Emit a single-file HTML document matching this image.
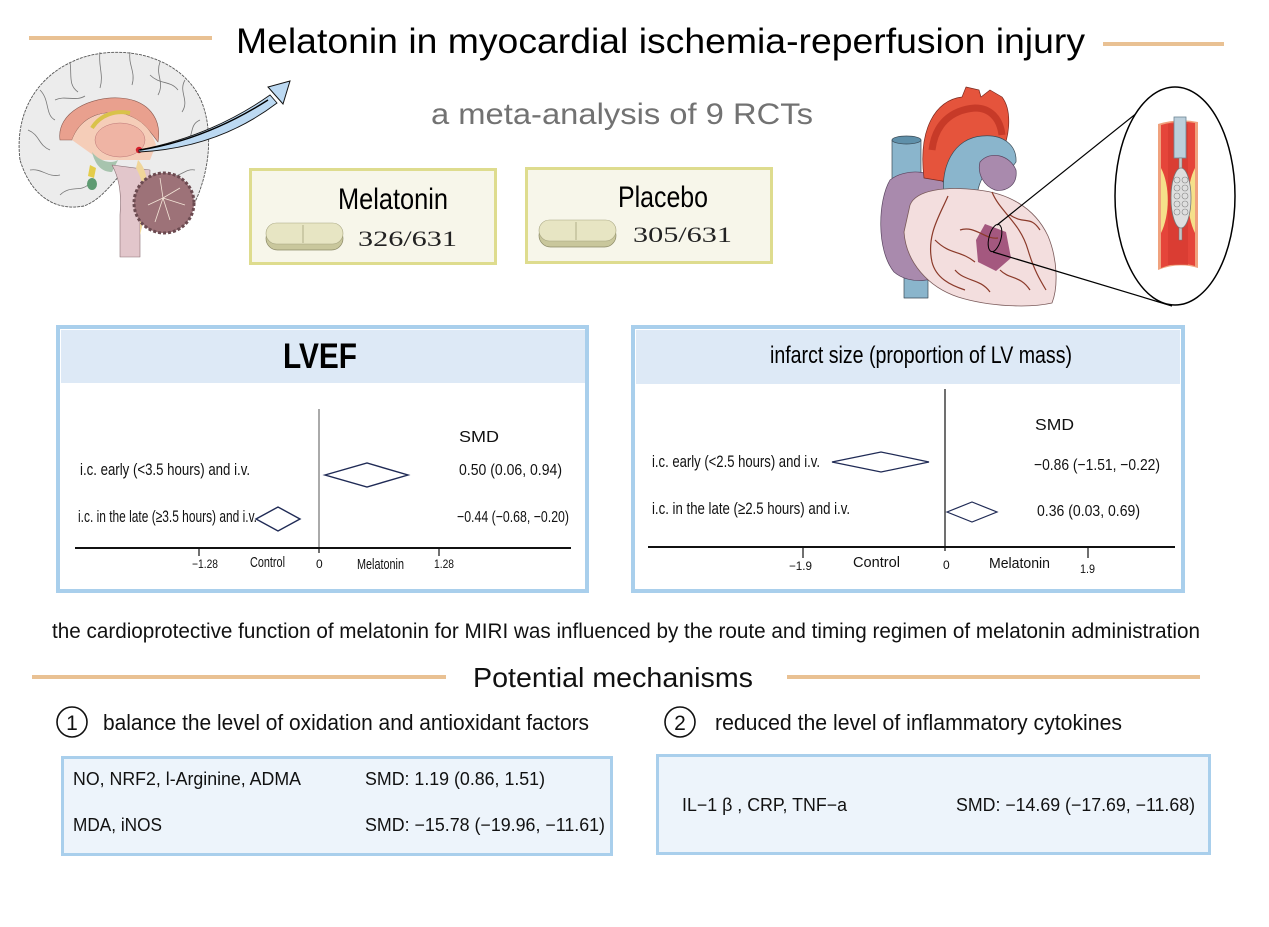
<!DOCTYPE html>
<html>
<head>
<meta charset="utf-8">
<style>
html,body{margin:0;padding:0;background:#fff;}
svg{display:block;}
text{font-family:"Liberation Sans",Arial,sans-serif;}
</style>
</head>
<body>
<svg width="1269" height="927" viewBox="0 0 1269 927" xmlns="http://www.w3.org/2000/svg">
<rect width="1269" height="927" fill="#fff"/>

<!-- Title -->
<line x1="29" y1="38" x2="212" y2="38" stroke="#e9c193" stroke-width="4"/>
<line x1="1103" y1="44" x2="1224" y2="44" stroke="#e9c193" stroke-width="4"/>
<text x="236" y="53" font-size="35" fill="#000" textLength="849" lengthAdjust="spacingAndGlyphs">Melatonin in myocardial ischemia-reperfusion injury</text>
<text x="431" y="124" font-size="30" fill="#727272" textLength="382" lengthAdjust="spacingAndGlyphs">a meta-analysis of 9 RCTs</text>

<!-- Brain -->
<g stroke-linejoin="round">
  <path d="M20,160 C14,112 38,72 84,57 C128,44 180,58 200,98 C213,126 211,166 196,200 L186,206 C176,186 156,176 140,178 L121,174 C110,186 100,200 84,206 C58,211 32,199 20,160 Z" fill="#ececec" stroke="#555" stroke-width="0.9" stroke-dasharray="3 1"/>
  <g fill="none" stroke="#777" stroke-width="0.8">
    <path d="M40,90 C50,100 45,115 55,120"/><path d="M70,62 C72,75 68,85 78,92"/>
    <path d="M100,52 C98,66 104,75 100,88"/><path d="M130,52 C128,65 136,72 132,85"/>
    <path d="M160,62 C155,75 165,82 158,95"/><path d="M185,80 C178,92 190,100 182,112"/>
    <path d="M200,120 C188,125 195,138 185,142"/><path d="M28,130 C40,135 38,145 50,150"/>
    <path d="M30,170 C42,168 48,178 60,175"/><path d="M60,195 C70,185 80,192 88,185"/>
    <path d="M195,170 C185,168 180,178 170,176"/><path d="M55,100 C65,95 75,102 85,96"/>
    <path d="M150,75 C160,85 170,80 178,90"/>
  </g>
  <path d="M60,140 C56,112 92,96 120,98 C148,100 162,118 158,142 C150,132 144,120 124,114 C100,109 80,118 72,140 Z" fill="#e9a08e" stroke="#8a5a50" stroke-width="0.6"/>
  <path d="M72,140 C80,118 100,110 124,114 C144,120 152,132 156,145 L150,160 L100,160 Z" fill="#f5cdb8"/>
  <path d="M92,128 C100,115 115,110 130,113" fill="none" stroke="#d9c24a" stroke-width="4"/>
  <ellipse cx="120" cy="140" rx="25" ry="17" fill="#efb4a4" stroke="#b77" stroke-width="0.5"/>
  <path d="M92,152 C98,160 110,165 118,160 L112,172 C104,172 96,168 92,152 Z" fill="#a7c4ae"/>
  <path d="M90,165 L96,168 L94,178 L88,176 Z" fill="#e4cc4a"/>
  <ellipse cx="92" cy="184" rx="5" ry="6" fill="#5e9b72"/>
  <path d="M112,165 C118,176 122,190 120,215 L120,257 L140,257 L140,222 C145,200 150,186 150,170 Z" fill="#e2c6cb" stroke="#8a7075" stroke-width="0.6"/>
  <path d="M138,160 C148,170 150,190 145,215 L140,235 L140,222 C144,200 146,186 136,168 Z" fill="#f0d69a"/>
  <circle cx="164" cy="203" r="30" fill="#9d7278" stroke="#6b4a50" stroke-width="3" stroke-dasharray="3 2"/>
  <g stroke="#f4e6d8" stroke-width="0.8" fill="none">
    <path d="M148,205 L163,198 L180,188"/><path d="M163,198 L170,220"/><path d="M163,198 L155,222"/><path d="M163,198 L185,205"/><path d="M163,198 L160,178"/>
  </g>
  <circle cx="139" cy="150" r="3.2" fill="#d4202c"/>
</g>
<!-- Brain arrow -->
<path d="M139,150 Q212,136 270,95 L277,103 Q218,148 139,152 Z" fill="#bcd9f2" stroke="#111" stroke-width="0.9"/>
<path d="M140,150 Q205,140 268,100" fill="none" stroke="#000" stroke-width="1.4"/>
<path d="M290,81 L268,87 L283,104 Z" fill="#bcd9f2" stroke="#111" stroke-width="1"/>

<!-- Melatonin / Placebo boxes -->
<rect x="250.5" y="169.5" width="245" height="94" fill="#f7f6ea" stroke="#dedc8e" stroke-width="3"/>
<text x="338" y="209" font-size="30" fill="#000" textLength="110" lengthAdjust="spacingAndGlyphs">Melatonin</text>
<g>
  <rect x="266" y="227" width="77" height="23" rx="11.5" fill="#c9c79c" stroke="#8d8b68" stroke-width="0.7"/>
  <rect x="266" y="223" width="77" height="21" rx="10.5" fill="#e7e5c3" stroke="#a8a680" stroke-width="0.6"/>
  <line x1="303" y1="225" x2="303" y2="243" stroke="#b2b08a" stroke-width="1"/>
</g>
<text x="358" y="246" font-size="22" fill="#222" textLength="99" lengthAdjust="spacingAndGlyphs" style="font-family:'Liberation Serif',serif">326/631</text>

<rect x="526.5" y="168.5" width="245" height="94" fill="#f7f6ea" stroke="#dedc8e" stroke-width="3"/>
<text x="618" y="207" font-size="30" fill="#000" textLength="90" lengthAdjust="spacingAndGlyphs">Placebo</text>
<g>
  <rect x="539" y="224" width="77" height="23" rx="11.5" fill="#c9c79c" stroke="#8d8b68" stroke-width="0.7"/>
  <rect x="539" y="220" width="77" height="21" rx="10.5" fill="#e7e5c3" stroke="#a8a680" stroke-width="0.6"/>
  <line x1="576" y1="222" x2="576" y2="240" stroke="#b2b08a" stroke-width="1"/>
</g>
<text x="633" y="242" font-size="22" fill="#222" textLength="99" lengthAdjust="spacingAndGlyphs" style="font-family:'Liberation Serif',serif">305/631</text>

<!-- Heart -->
<g stroke-linejoin="round">
  <rect x="892" y="140" width="29" height="48" fill="#8ab5cc" stroke="#3a4a55" stroke-width="0.7"/>
  <ellipse cx="906.5" cy="140" rx="14.5" ry="4" fill="#5f90aa" stroke="#3a4a55" stroke-width="0.7"/>
  <rect x="904" y="262" width="24" height="36" fill="#8ab5cc" stroke="#3a4a55" stroke-width="0.7"/>
  <path d="M890,180 C878,200 876,250 894,272 C910,286 940,282 952,266 L950,190 C936,168 905,168 890,180 Z" fill="#a98aad" stroke="#5a4560" stroke-width="0.7"/>
  <path d="M924,178 C918,130 935,100 962,97 L966,87 L979,90 L981,97 L990,90 L1002,97 C1012,110 1010,135 1002,152 L976,152 C960,152 950,162 948,182 Z" fill="#e5543c" stroke="#7a2a20" stroke-width="0.7"/>
  <path d="M932,150 C935,125 950,110 975,108 C990,108 1000,118 1002,135" fill="none" stroke="#c73a28" stroke-width="7"/>
  <path d="M945,205 C938,165 955,138 982,136 C1003,134 1017,145 1016,162 C1010,172 1000,172 990,170 C980,176 976,192 976,208 Z" fill="#8ab5cc" stroke="#3a4a55" stroke-width="0.7"/>
  <path d="M980,162 C990,150 1010,155 1016,170 C1018,186 1005,192 995,190 C984,186 977,174 980,162 Z" fill="#a98aad" stroke="#5a4560" stroke-width="0.7"/>
  <path d="M910,205 C916,190 945,186 978,190 C1006,193 1034,206 1048,236 C1058,260 1058,288 1052,303 C1030,308 990,307 958,297 C928,287 906,262 904,232 Z" fill="#f3dede" stroke="#7a5a5a" stroke-width="0.8"/>
  <path d="M985,224 L1006,232 L1011,258 L996,271 L978,262 L976,240 Z" fill="#a4587f"/>
  <g fill="none" stroke="#8b3a2a" stroke-width="1.2">
    <path d="M948,196 C940,215 926,235 932,262 C936,278 950,285 965,290"/>
    <path d="M992,192 C1000,212 1020,222 1028,250 C1034,270 1040,280 1046,290"/>
    <path d="M960,230 C975,225 985,240 998,238"/>
    <path d="M935,240 C950,255 960,250 975,262"/>
    <path d="M1010,215 C1025,225 1030,215 1040,230"/>
    <path d="M1000,270 C1010,280 1020,275 1030,290"/>
    <path d="M955,270 C965,282 980,278 990,292"/>
  </g>
  <ellipse cx="995" cy="238" rx="6" ry="14" transform="rotate(15 995 238)" fill="none" stroke="#000" stroke-width="1"/>
</g>
<line x1="997" y1="225" x2="1168" y2="88" stroke="#000" stroke-width="1.2"/>
<line x1="993" y1="252" x2="1172" y2="306" stroke="#000" stroke-width="1.2"/>
<ellipse cx="1175" cy="196" rx="60" ry="109" fill="#fff" stroke="#000" stroke-width="1.5"/>
<!-- vessel / stent -->
<g>
  <path d="M1158,124 Q1178,118 1198,122 L1198,268 Q1178,262 1158,270 Z" fill="#f0a27e"/>
  <path d="M1161,125 Q1178,120 1195,123 L1195,266 Q1178,261 1161,268 Z" fill="#e5453a"/>
  <path d="M1168,124 L1188,124 L1188,265 L1168,265 Z" fill="#d63a30" opacity="0.7"/>
  <path d="M1161,168 C1170,185 1170,215 1161,233 Z" fill="#f5e08a"/>
  <path d="M1195,168 C1186,185 1186,215 1195,233 Z" fill="#f5e08a"/>
  <rect x="1174" y="117" width="12" height="41" fill="#bccfdb" stroke="#6d8595" stroke-width="0.8"/>
  <rect x="1179" y="158" width="3" height="82" fill="#c5c5c5" stroke="#777" stroke-width="0.5"/>
  <ellipse cx="1181" cy="198" rx="10" ry="30" fill="#dedede" stroke="#777" stroke-width="0.8"/>
  <g fill="none" stroke="#888" stroke-width="0.6">
    <circle cx="1177" cy="180" r="3"/><circle cx="1185" cy="180" r="3"/>
    <circle cx="1177" cy="188" r="3"/><circle cx="1185" cy="188" r="3"/>
    <circle cx="1177" cy="196" r="3"/><circle cx="1185" cy="196" r="3"/>
    <circle cx="1177" cy="204" r="3"/><circle cx="1185" cy="204" r="3"/>
    <circle cx="1177" cy="212" r="3"/><circle cx="1185" cy="212" r="3"/>
  </g>
</g>

<!-- LVEF panel -->
<rect x="58" y="327" width="529" height="264" fill="#fff" stroke="#a9cfec" stroke-width="4"/>
<rect x="61" y="330" width="524" height="53" fill="#dde9f6"/>
<text x="283" y="368" font-size="35" font-weight="bold" fill="#000" textLength="74" lengthAdjust="spacingAndGlyphs">LVEF</text>
<line x1="319" y1="409" x2="319" y2="548" stroke="#555" stroke-width="1"/>
<line x1="75" y1="548" x2="571" y2="548" stroke="#111" stroke-width="2"/>
<line x1="199" y1="548" x2="199" y2="556" stroke="#111" stroke-width="1.2"/>
<line x1="319" y1="548" x2="319" y2="553" stroke="#111" stroke-width="1.2"/>
<line x1="439" y1="548" x2="439" y2="556" stroke="#111" stroke-width="1.2"/>
<text x="459" y="442" font-size="16" fill="#111" textLength="40" lengthAdjust="spacingAndGlyphs">SMD</text>
<text x="80" y="475" font-size="17" fill="#111" textLength="170" lengthAdjust="spacingAndGlyphs">i.c. early (&lt;3.5 hours) and i.v.</text>
<text x="78" y="522" font-size="17" fill="#111" textLength="179" lengthAdjust="spacingAndGlyphs">i.c. in the late (≥3.5 hours) and i.v.</text>
<text x="459" y="475" font-size="16" fill="#111" textLength="103" lengthAdjust="spacingAndGlyphs">0.50 (0.06, 0.94)</text>
<text x="457" y="522" font-size="16" fill="#111" textLength="112" lengthAdjust="spacingAndGlyphs">−0.44 (−0.68, −0.20)</text>
<polygon points="325,475 367,463 408,475 367,487" fill="none" stroke="#1f2a55" stroke-width="1.4"/>
<polygon points="256,519 278,507 300,519 278,531" fill="none" stroke="#1f2a55" stroke-width="1.4"/>
<text x="192" y="568" font-size="12" fill="#111" textLength="26" lengthAdjust="spacingAndGlyphs">−1.28</text>
<text x="250" y="567" font-size="15" fill="#111" textLength="35" lengthAdjust="spacingAndGlyphs">Control</text>
<text x="316" y="568" font-size="12" fill="#111">0</text>
<text x="357" y="569" font-size="15" fill="#111" textLength="47" lengthAdjust="spacingAndGlyphs">Melatonin</text>
<text x="434" y="568" font-size="12" fill="#111" textLength="20" lengthAdjust="spacingAndGlyphs">1.28</text>

<!-- Infarct panel -->
<rect x="633" y="327" width="550" height="264" fill="#fff" stroke="#a9cfec" stroke-width="4"/>
<rect x="636" y="330" width="544" height="54" fill="#dde9f6"/>
<text x="770" y="363" font-size="24" fill="#000" textLength="302" lengthAdjust="spacingAndGlyphs">infarct size (proportion of LV mass)</text>
<line x1="945" y1="389" x2="945" y2="547" stroke="#111" stroke-width="1.2"/>
<line x1="648" y1="547" x2="1175" y2="547" stroke="#111" stroke-width="2"/>
<line x1="803" y1="547" x2="803" y2="558" stroke="#111" stroke-width="1.2"/>
<line x1="945" y1="547" x2="945" y2="551" stroke="#111" stroke-width="1.2"/>
<line x1="1088" y1="547" x2="1088" y2="558" stroke="#111" stroke-width="1.2"/>
<text x="1035" y="430" font-size="16" fill="#111" textLength="39" lengthAdjust="spacingAndGlyphs">SMD</text>
<text x="652" y="467" font-size="17" fill="#111" textLength="168" lengthAdjust="spacingAndGlyphs">i.c. early (&lt;2.5 hours) and i.v.</text>
<text x="652" y="514" font-size="17" fill="#111" textLength="198" lengthAdjust="spacingAndGlyphs">i.c. in the late (≥2.5 hours) and i.v.</text>
<text x="1034" y="470" font-size="16" fill="#111" textLength="126" lengthAdjust="spacingAndGlyphs">−0.86 (−1.51, −0.22)</text>
<text x="1037" y="516" font-size="16" fill="#111" textLength="103" lengthAdjust="spacingAndGlyphs">0.36 (0.03, 0.69)</text>
<polygon points="832,462 881,452 929,462 881,472" fill="none" stroke="#1f2a55" stroke-width="1.2"/>
<polygon points="947,512 972,502 997,512 972,522" fill="none" stroke="#1f2a55" stroke-width="1.2"/>
<text x="789" y="570" font-size="12" fill="#111" textLength="23" lengthAdjust="spacingAndGlyphs">−1.9</text>
<text x="853" y="567" font-size="15" fill="#111" textLength="47" lengthAdjust="spacingAndGlyphs">Control</text>
<text x="943" y="569" font-size="12" fill="#111">0</text>
<text x="989" y="568" font-size="15" fill="#111" textLength="61" lengthAdjust="spacingAndGlyphs">Melatonin</text>
<text x="1080" y="573" font-size="12" fill="#111" textLength="15" lengthAdjust="spacingAndGlyphs">1.9</text>

<!-- Summary -->
<text x="52" y="638" font-size="21" fill="#111" textLength="1148" lengthAdjust="spacingAndGlyphs">the cardioprotective function of melatonin for MIRI was influenced by the route and timing regimen of melatonin administration</text>

<!-- Potential mechanisms -->
<line x1="32" y1="677" x2="446" y2="677" stroke="#e9c193" stroke-width="4"/>
<line x1="787" y1="677" x2="1200" y2="677" stroke="#e9c193" stroke-width="4"/>
<text x="473" y="687" font-size="28" fill="#111" textLength="280" lengthAdjust="spacingAndGlyphs">Potential mechanisms</text>

<circle cx="72" cy="722" r="15" fill="none" stroke="#111" stroke-width="1.6"/>
<text x="72" y="730" font-size="21" fill="#111" text-anchor="middle">1</text>
<text x="103" y="730" font-size="22" fill="#111" textLength="486" lengthAdjust="spacingAndGlyphs">balance the level of oxidation and antioxidant factors</text>

<circle cx="680" cy="722" r="15" fill="none" stroke="#111" stroke-width="1.6"/>
<text x="680" y="730" font-size="21" fill="#111" text-anchor="middle">2</text>
<text x="715" y="730" font-size="22" fill="#111" textLength="407" lengthAdjust="spacingAndGlyphs">reduced the level of  inflammatory cytokines</text>

<!-- Box 3 -->
<rect x="62.5" y="757.5" width="549" height="97" fill="#edf4fb" stroke="#a9cfec" stroke-width="3"/>
<text x="73" y="785" font-size="18" fill="#111" textLength="228" lengthAdjust="spacingAndGlyphs">NO, NRF2, l-Arginine, ADMA</text>
<text x="365" y="785" font-size="18" fill="#111" textLength="180" lengthAdjust="spacingAndGlyphs">SMD: 1.19 (0.86, 1.51)</text>
<text x="73" y="831" font-size="18" fill="#111" textLength="89" lengthAdjust="spacingAndGlyphs">MDA, iNOS</text>
<text x="365" y="831" font-size="18" fill="#111" textLength="240" lengthAdjust="spacingAndGlyphs">SMD: −15.78 (−19.96, −11.61)</text>

<!-- Box 4 -->
<rect x="657.5" y="755.5" width="552" height="98" fill="#edf4fb" stroke="#a9cfec" stroke-width="3"/>
<text x="682" y="811" font-size="18" fill="#111" textLength="165" lengthAdjust="spacingAndGlyphs">IL−1 β , CRP, TNF−a</text>
<text x="956" y="811" font-size="18" fill="#111" textLength="239" lengthAdjust="spacingAndGlyphs">SMD: −14.69 (−17.69, −11.68)</text>
</svg>
</body>
</html>
